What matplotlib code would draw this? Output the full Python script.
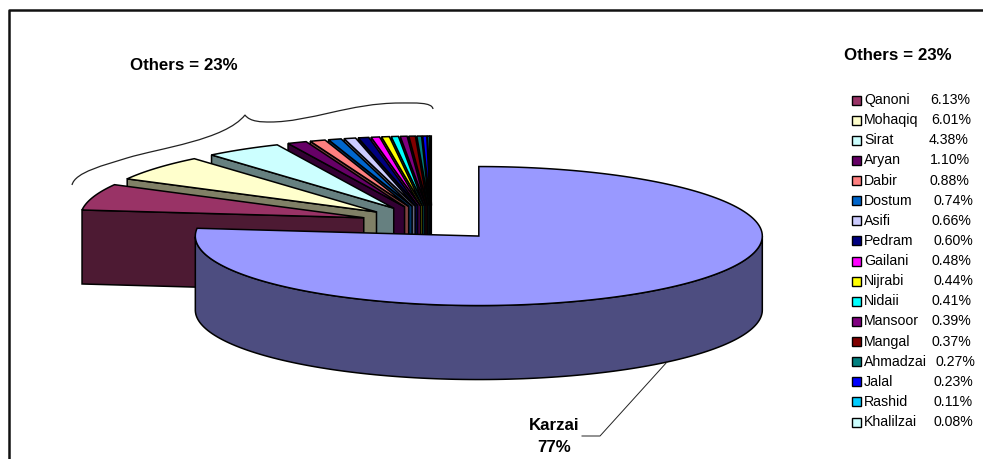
#!/usr/bin/python3

import numpy as np
import matplotlib
matplotlib.use('Agg')
import matplotlib.pyplot as plt
from matplotlib.patches import Polygon, PathPatch, Rectangle
from matplotlib.path import Path
from matplotlib.colors import to_rgb

plt.rcParams['font.family'] = ['Liberation Sans', 'DejaVu Sans']

names = ['Karzai', 'Qanoni', 'Mohaqiq', 'Sirat', 'Aryan', 'Dabir', 'Dostum', 'Asifi', 'Pedram',
         'Gailani', 'Nijrabi', 'Nidaii', 'Mansoor', 'Mangal', 'Ahmadzai', 'Jalal', 'Rashid', 'Khalilzai']
shares = [77, 6.13, 6.01, 4.38, 1.10, 0.88, 0.74, 0.66, 0.60,
          0.48, 0.44, 0.41, 0.39, 0.37, 0.27, 0.23, 0.11, 0.08]
colors = ['#9999FF', '#993366', '#FFFFCC', '#CCFFFF', '#660066', '#FF8080', '#0066CC', '#CCCCFF', '#000080',
          '#FF00FF', '#FFFF00', '#00FFFF', '#800080', '#800000', '#008080', '#0000FF', '#00CCFF', '#CCFFFF']

# x of the percentage column, it was tabbed by hand so it wobbles
pct_x = [930, 931, 929, 930, 930, 934, 931, 934, 932, 933, 931, 932, 931, 936, 933, 933, 933]

# pie geometry in pixels
cx, cy = 431.5, 223
rx, ry = 283.5, 69.5
explode_x, explode_y = 71, 17.5
depth = 74
edge_lw = 1.1


def pt(ox, oy, ang):
    # angle is clockwise from 12 o'clock
    return ox + rx * np.sin(ang), oy - ry * np.cos(ang)


def darker(c):
    return tuple(v * 0.5 for v in to_rgb(c))


fig = plt.figure(figsize=(9.83, 4.59), dpi=100)
ax = fig.add_axes([0, 0, 1, 1])
ax.set_xlim(0, 983)
ax.set_ylim(459, 0)
ax.axis('off')

# outer frame, only the top and left edges are in view
ax.plot([8.5, 8.5, 983], [459, 9.5, 9.5], color='#111111', lw=1.8, solid_capstyle='butt', zorder=1)

fracs = np.array(shares) / sum(shares)
edges = np.concatenate([[0], np.cumsum(fracs)]) * 2 * np.pi

# draw from the 12 o'clock slice backwards so the nearer ones cover the rest
order = list(range(len(names) - 1, 0, -1)) + [0]
z = 2
for i in order:
    a0, a1 = edges[i], edges[i + 1]
    mid = (a0 + a1) / 2
    ox = cx + explode_x * np.sin(mid)
    oy = cy - explode_y * np.cos(mid)
    angs = np.linspace(a0, a1, 200)
    xs, ys = pt(ox, oy, angs)

    # side wall on the radial edge that faces the viewer
    sx, sy = pt(ox, oy, a0)
    if a0 > np.pi:
        ax.add_patch(Polygon([(ox, oy), (sx, sy), (sx, sy + depth), (ox, oy + depth)],
                             facecolor=darker(colors[i]), edgecolor='black', lw=edge_lw, zorder=z))
        z += 1

    # curved wall, only the front half of the rim shows
    front = angs[(angs >= np.pi / 2) & (angs <= 3 * np.pi / 2)]
    if len(front) > 1:
        fx, fy = pt(ox, oy, front)
        wall = np.column_stack([np.r_[fx, fx[::-1]], np.r_[fy, fy[::-1] + depth]])
        ax.add_patch(Polygon(wall, facecolor=darker(colors[i]), edgecolor='black', lw=edge_lw, zorder=z))
        z += 1

    top = np.column_stack([np.r_[ox, xs], np.r_[oy, ys]])
    ax.add_patch(Polygon(top, facecolor=colors[i], edgecolor='black', lw=edge_lw, zorder=z))
    z += 1

# brace over the smaller candidates
brace = [(72, 185), (75, 172), (105, 165), (127, 158), (160, 148), (225, 140), (245, 115),
         (250, 122), (262, 122), (270, 122), (310, 122), (350, 103), (400, 103),
         (415, 103), (432, 102), (433, 109)]
codes = [Path.MOVETO] + [Path.CURVE4] * (len(brace) - 1)
ax.add_patch(PathPatch(Path(brace, codes), facecolor='none', edgecolor='#222222', lw=0.9, zorder=z))

# leader line for the big slice
ax.plot([667, 600, 582], [362, 436, 436], color='#222222', lw=0.7, zorder=z)

ax.text(183.5, 65, 'Others = 23%', fontsize=12.2, fontweight='bold', ha='center', va='center')
ax.text(898, 55, 'Others = 23%', fontsize=12.2, fontweight='bold', ha='center', va='center')
ax.text(554, 425, names[0], fontsize=12.2, fontweight='bold', ha='center', va='center')
ax.text(554, 448, f'{shares[0]}%', fontsize=12.2, fontweight='bold', ha='center', va='center')

# legend for the "others" group
for k, (name, share, col) in enumerate(zip(names[1:], shares[1:], colors[1:])):
    y = 100 + k * 20.13
    ax.add_patch(Rectangle((852, y - 4.5), 9, 9, facecolor=col, edgecolor='black', lw=1.0, zorder=z))
    ax.text(864, y, name, fontsize=10.2, ha='left', va='center')
    ax.text(pct_x[k], y, f'{share:.2f}%', fontsize=10.2, ha='left', va='center')

fig.savefig('out.png', dpi=100)
